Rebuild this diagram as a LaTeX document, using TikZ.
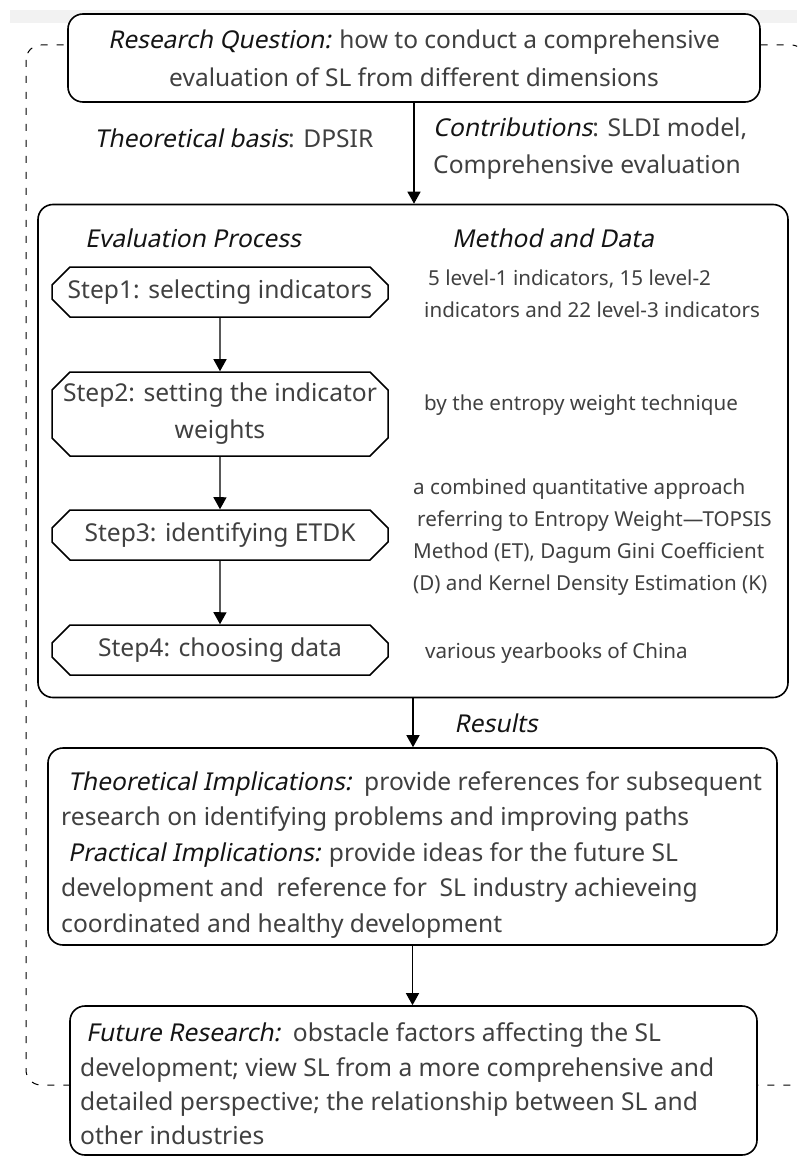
\documentclass[tikz,border=0pt]{standalone}
\usepackage{graphicx}
\usepackage{fontspec}
\setmainfont{Noto Sans}
\newfontfamily\slfont[FakeSlant=0.2]{Noto Sans}
\usetikzlibrary{shapes.misc,arrows.meta}
\newcommand{\lbl}[1]{{\slfont\color{black!92}#1}}
\tikzset{
  txt/.style={text=black!75, inner sep=0pt},
  rqfont/.style={font=\fontsize{24.5}{38}\selectfont},
  mainfont/.style={font=\fontsize{24.6}{37}\selectfont},
  sidefont/.style={font=\fontsize{20.6}{32}\selectfont},
  resfont/.style={font=\fontsize{24.6}{35.5}\selectfont},
  futfont/.style={font=\fontsize{24.6}{34.3}\selectfont},
  box/.style={draw, line width=1.6pt, rounded corners=15pt, fill=white, inner sep=0pt},
  stepbox/.style={draw, line width=1.5pt, chamfered rectangle,
    chamfered rectangle xsep=9pt, chamfered rectangle ysep=9pt,
    fill=white, minimum width=336pt, inner sep=0pt, text=black!75, mainfont},
  arr/.style={line width=1.4pt, -{Triangle[width=13pt,length=12pt]}},
  frame/.style={line width=1pt, dash pattern=on 7pt off 9pt, rounded corners=15pt}
}
\begin{document}
\begin{tikzpicture}[x=1pt,y=-1pt]
\useasboundingbox (0,0) rectangle (797,1158);
% light strip along the top edge
\fill[black!5] (10,10) rectangle (797,23);
% dashed outer frame
\begin{scope}
  \clip (0,0) rectangle (797,1158);
  \draw[frame] (26,45) rectangle (806,1085);
\end{scope}

% research question
\node[box, minimum width=692pt, minimum height=88pt, align=center, txt, rqfont] (rq) at (414,58)
  {\lbl{Research Question:} how to conduct a comprehensive\\evaluation of SL from different dimensions};
\node[txt, mainfont] (tb) at (234,138) {\lbl{Theoretical basis}: DPSIR};
\node[txt, mainfont, align=left, anchor=west] (con) at (433,149)
  {\resizebox{314pt}{\height}{\lbl{Contributions}: SLDI model,}\\Comprehensive evaluation};

% evaluation block
\node[box, minimum width=750pt, minimum height=493pt] (ev) at (413,451) {};
\node[txt, mainfont] (ep) at (193,238) {\lbl{Evaluation Process}};
\node[txt, mainfont] (md) at (553,238) {\lbl{Method and Data}};

\node[stepbox, minimum height=50pt] (s1) at (220,292) {Step1: selecting indicators};
\node[stepbox, minimum height=84pt, align=center] (s2) at (220,414) {Step2: setting the indicator\\weights};
\node[stepbox, minimum height=50pt] (s3) at (220,535) {Step3: identifying ETDK};
\node[stepbox, minimum height=50pt] (s4) at (220,650) {Step4: choosing data};

\node[txt, sidefont, align=left, anchor=west] (m1) at (424,294)
  {\hspace{4pt}5 level-1 indicators, 15 level-2\\indicators and 22 level-3 indicators};
\node[txt, sidefont, anchor=west] (m2) at (424,405) {by the entropy weight technique};
\node[txt, sidefont, align=left, anchor=west] (m3) at (413,537)
  {a combined quantitative approach\\\hspace{4pt}referring to Entropy Weight—TOPSIS\\Method (ET), Dagum Gini Coefficient\\(D) and Kernel Density Estimation (K)};
\node[txt, sidefont, anchor=west] (m4) at (425,653) {various yearbooks of China};

\node[txt, mainfont] (rl) at (496,723) {\lbl{Results}};

% results block
\node[box, minimum width=729pt, minimum height=197pt] (res) at (412.5,846.5) {};
\node[txt, resfont, align=left, anchor=west] (rest) at (61,855)
  {\hspace{7pt}\lbl{Theoretical Implications:}\ \ provide references for subsequent\\
   research on identifying problems and improving paths\\
   \hspace{7pt}\lbl{Practical Implications:} provide ideas for the future SL\\
   development and\ \ reference for\ \ SL industry achieveing\\
   coordinated and healthy development};

% future research block
\node[box, minimum width=687pt, minimum height=149pt] (fr) at (413.5,1080.5) {};
\node[txt, futfont, align=left, anchor=west] (frt) at (80,1084)
  {\hspace{6pt}\lbl{Future Research:}\ \ obstacle factors affecting the SL\\
   development; view SL from a more comprehensive and\\
   detailed perspective; the relationship between SL and\\
   other industries};

% connectors
\draw[arr] (rq.south) -- (rq.south |- ev.north);
\draw[arr] (s1) -- (s2);
\draw[arr] (s2) -- (s3);
\draw[arr] (s3) -- (s4);
\draw[arr] (ev.south) -- (ev.south |- res.north);
\draw[arr] (res.south) -- (res.south |- fr.north);
\end{tikzpicture}
\end{document}
